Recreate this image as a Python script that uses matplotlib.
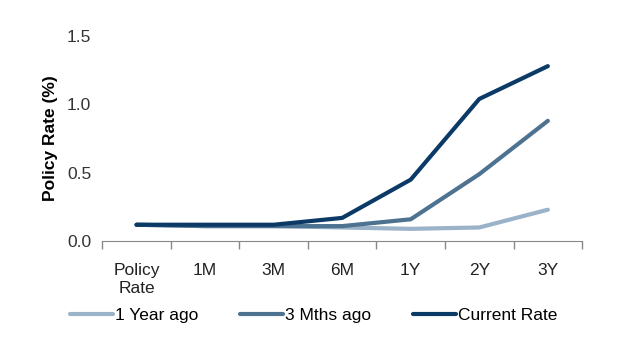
import matplotlib.pyplot as plt
import numpy as np

plt.rcParams['font.family'] = ['Liberation Sans', 'DejaVu Sans']

categories = ["Policy\nRate", "1M", "3M", "6M", "1Y", "2Y", "3Y"]
one_year_ago = [0.12, 0.11, 0.11, 0.10, 0.09, 0.10, 0.23]
three_mths_ago = [0.12, 0.11, 0.11, 0.11, 0.16, 0.49, 0.88]
current_rate = [0.12, 0.12, 0.12, 0.17, 0.45, 1.04, 1.28]

series = [
    ("1 Year ago", one_year_ago, "#9ab3c8"),
    ("3 Mths ago", three_mths_ago, "#4e7391"),
    ("Current Rate", current_rate, "#0b3a66"),
]

fig = plt.figure(figsize=(6.39, 3.5), dpi=100)
ax = fig.add_axes([0.16, 0.311, 0.751, 0.586])

x = np.arange(len(categories))
for name, vals, color in series:
    ax.plot(x, vals, color=color, lw=3, label=name, solid_capstyle='round')

ax.set_xlim(-0.5, len(categories) - 0.5)
ax.set_ylim(0, 1.5)
ax.set_yticks([0.0, 0.5, 1.0, 1.5])
ax.set_yticklabels(["0.0", "0.5", "1.0", "1.5"])

# tick marks at category boundaries, labels centered
ax.set_xticks(np.arange(-0.5, len(categories), 1.0))
ax.set_xticklabels([])
ax.set_xticks(x, minor=True)
ax.set_xticklabels(categories, minor=True)
ax.tick_params(axis='x', which='major', length=6, color='#888888', width=1)
ax.tick_params(axis='x', which='minor', length=0, labelsize=12.5, pad=16,
               labelcolor='#222222')
ax.tick_params(axis='y', length=0, labelsize=12.5, pad=8, labelcolor='#333333')

for s in ['top', 'right', 'left']:
    ax.spines[s].set_visible(False)
ax.spines['bottom'].set_color('#888888')

ax.set_ylabel("Policy Rate (%)", fontsize=12.5, fontweight='bold', labelpad=6)

ax.legend(loc='upper left', bbox_to_anchor=(-0.1, -0.25), ncol=3, frameon=False,
          fontsize=12.5, handlelength=2.5, handletextpad=0.1, columnspacing=2.4)

fig.savefig("out.png", dpi=100)
